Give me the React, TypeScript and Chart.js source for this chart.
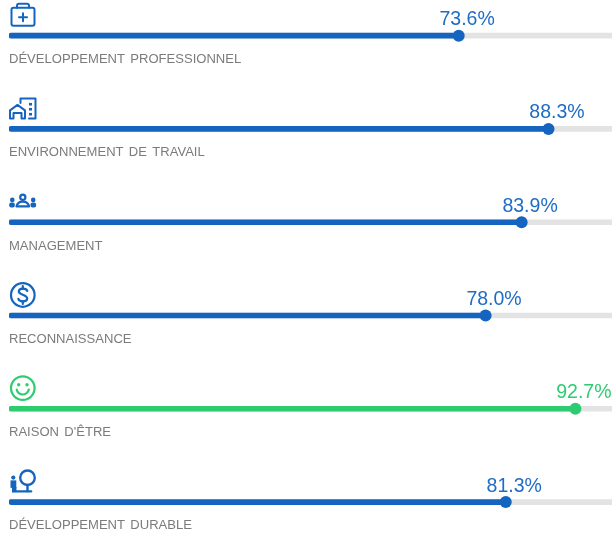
import React, { useEffect, useRef } from "react";
import { Chart, registerables } from "chart.js";

Chart.register(...registerables);

const categories = [
  "DÉVELOPPEMENT PROFESSIONNEL",
  "ENVIRONNEMENT DE TRAVAIL",
  "MANAGEMENT",
  "RECONNAISSANCE",
  "RAISON D'ÊTRE",
  "DÉVELOPPEMENT DURABLE",
];
const scores = [73.6, 88.3, 83.9, 78.0, 92.7, 81.3];
const track = [100, 100, 100, 100, 100, 100];
const BLUE = "#1565c0";
const GREEN = "#2ecc71";
const colors = [BLUE, BLUE, BLUE, BLUE, GREEN, BLUE];
const labelColors = ["#1f6cc4", "#1f6cc4", "#1f6cc4", "#1f6cc4", "#2ecc71", "#1f6cc4"];

type Ctx = CanvasRenderingContext2D;

function line(c: Ctx, pts: number[][]) {
  c.beginPath();
  pts.forEach((p, i) => (i ? c.lineTo(p[0], p[1]) : c.moveTo(p[0], p[1])));
  c.stroke();
}
function dot(c: Ctx, x: number, y: number, r: number) {
  c.beginPath();
  c.arc(x, y, r, 0, Math.PI * 2);
  c.fill();
}
function ring(c: Ctx, x: number, y: number, r: number) {
  c.beginPath();
  c.arc(x, y, r, 0, Math.PI * 2);
  c.stroke();
}

// Icons are drawn relative to (x = left of chart, y = bar centre)
const icons: ((c: Ctx) => void)[] = [
  (c) => {
    c.beginPath();
    c.roundRect(2.5, -27.8, 23, 18, 2);
    c.stroke();
    c.beginPath();
    c.moveTo(8, -27.8);
    c.lineTo(8, -30);
    c.quadraticCurveTo(8, -32, 10, -32);
    c.lineTo(18, -32);
    c.quadraticCurveTo(20, -32, 20, -30);
    c.lineTo(20, -27.8);
    c.stroke();
    line(c, [[10, -18.5], [18, -18.5]]);
    line(c, [[14, -22.5], [14, -14.5]]);
  },
  (c) => {
    line(c, [[11.5, -26], [11.5, -30.5], [26.5, -30.5], [26.5, -10.5], [20, -10.5]]);
    c.beginPath();
    c.moveTo(1, -10.5);
    c.lineTo(1, -18.5);
    c.lineTo(8.5, -24);
    c.lineTo(16, -18.5);
    c.lineTo(16, -10.5);
    c.lineTo(12.5, -10.5);
    c.lineTo(12.5, -16);
    c.lineTo(4.5, -16);
    c.lineTo(4.5, -10.5);
    c.closePath();
    c.stroke();
    for (const y of [-26, -21, -16]) {
      c.fillRect(20, y, 3, 2.6);
    }
  },
  (c) => {
    c.lineWidth = 2.2;
    ring(c, 13.8, -25, 2.6);
    c.beginPath();
    c.moveTo(7.5, -15.8);
    c.quadraticCurveTo(8.5, -20.5, 13.8, -20.5);
    c.quadraticCurveTo(19.1, -20.5, 20.1, -15.8);
    c.closePath();
    c.stroke();
    dot(c, 3.3, -22.3, 2.3);
    dot(c, 24.2, -22.3, 2.3);
    c.beginPath();
    c.roundRect(0.2, -19.8, 5.6, 5, 2);
    c.fill();
    c.beginPath();
    c.roundRect(21.5, -19.8, 5.6, 5, 2);
    c.fill();
  },
  (c) => {
    c.lineWidth = 2.2;
    ring(c, 13.8, -20.5, 11.8);
    c.beginPath();
    c.moveTo(18.3, -24.5);
    c.bezierCurveTo(17.5, -27.5, 10, -28, 9.8, -24);
    c.bezierCurveTo(9.6, -20.5, 18.4, -21, 18.2, -17);
    c.bezierCurveTo(18, -13, 10, -13.5, 9.3, -16.7);
    c.stroke();
    line(c, [[13.8, -29.5], [13.8, -26.8]]);
    line(c, [[13.8, -14.2], [13.8, -11.5]]);
  },
  (c) => {
    c.lineWidth = 2.2;
    ring(c, 13.8, -20.7, 11.8);
    dot(c, 9.7, -24, 1.7);
    dot(c, 18, -24, 1.7);
    c.beginPath();
    c.arc(13.8, -20.5, 6.2, 0.2, Math.PI - 0.2);
    c.stroke();
  },
  (c) => {
    c.lineWidth = 2.4;
    ring(c, 18.5, -24.3, 7.3);
    line(c, [[18.5, -17], [18.5, -11]]);
    line(c, [[8, -10.7], [22, -10.7]]);
    dot(c, 4.3, -24.5, 2.1);
    c.fillRect(1.5, -21.7, 5.8, 7.5);
    c.fillRect(3, -15, 4.5, 5.5);
  },
];

const decorate = {
  id: "decorate",
  afterDatasetsDraw(chart: any) {
    const c: Ctx = chart.ctx;
    const xs = chart.scales.x;
    const ys = chart.scales.y;
    categories.forEach((name, i) => {
      const cy = ys.getPixelForValue(i);
      const left = xs.getPixelForValue(0);
      c.save();
      c.textBaseline = "alphabetic";
      c.textAlign = "left";
      c.font = '13.05px "Liberation Sans"';
      (c as any).wordSpacing = "1.7px";
      c.fillStyle = "#7b7b7b";
      c.fillText(name, left, cy + 27.3);
      (c as any).wordSpacing = "0px";
      c.font = '19.5px "Liberation Sans"';
      c.fillStyle = labelColors[i];
      c.fillText(scores[i].toFixed(1) + "%", xs.getPixelForValue(scores[i]) - 19.2, cy - 10.5);
      c.translate(left, cy);
      c.strokeStyle = colors[i];
      c.fillStyle = colors[i];
      c.lineWidth = 2;
      c.lineJoin = "round";
      c.lineCap = "round";
      icons[i](c);
      c.restore();
    });
  },
};

export default function App() {
  const ref = useRef<HTMLCanvasElement>(null);
  useEffect(() => {
    const chart = new Chart(ref.current!, {
      data: {
        labels: categories,
        datasets: [
          {
            type: "line",
            data: scores,
            showLine: false,
            order: 0,
            pointRadius: 6,
            pointHoverRadius: 6,
            pointBorderWidth: 0,
            pointBackgroundColor: colors,
          },
          {
            type: "bar",
            data: scores,
            order: 1,
            grouped: false,
            barThickness: 5,
            borderRadius: 3,
            borderSkipped: false,
            backgroundColor: colors,
          },
          {
            type: "bar",
            data: track,
            order: 2,
            grouped: false,
            barThickness: 5,
            backgroundColor: "#e3e3e3",
          },
        ],
      } as any,
      options: {
        indexAxis: "y",
        animation: false,
        responsive: false,
        events: [],
        layout: { autoPadding: false, padding: { left: 9, right: 0, top: 9, bottom: 1.3 } },
        plugins: { legend: { display: false }, tooltip: { enabled: false } },
        scales: {
          x: { type: "linear", min: 0, max: 100, display: false },
          y: { type: "category", display: false },
        },
      },
      plugins: [decorate],
    } as any);
    return () => chart.destroy();
  }, []);
  return (
    <div style={{ position: "fixed", left: 0, top: 0, width: 612, height: 537, overflow: "hidden", background: "#fff" }}>
      <canvas ref={ref} width={620} height={570} style={{ position: "absolute", left: 0, top: -20, width: 620, height: 570 }} />
    </div>
  );
}
